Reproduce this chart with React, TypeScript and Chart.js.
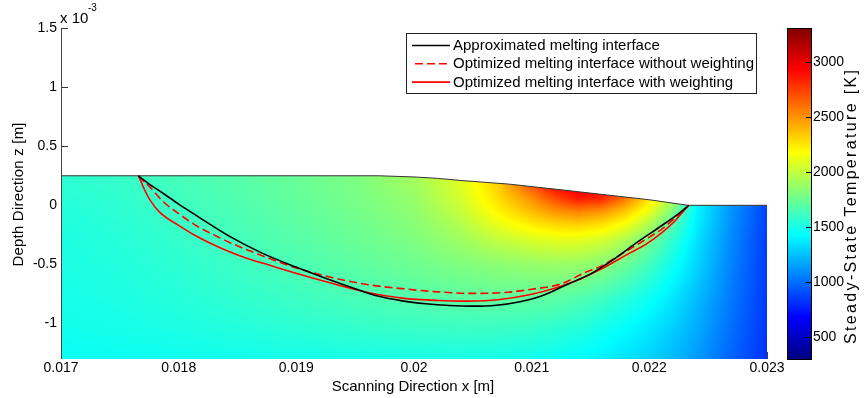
import React, { useEffect, useRef } from 'react';
import { Chart, registerables } from 'chart.js';

Chart.register(...registerables);

const FONT = '"Liberation Sans", Arial, Helvetica, sans-serif';

// axis ticks
const X_TICKS = [0.017, 0.018, 0.019, 0.02, 0.021, 0.022, 0.023];
const X_TICK_LABELS = ['0.017', '0.018', '0.019', '0.02', '0.021', '0.022', '0.023'];
const Y_TICKS = [-1, -0.5, 0, 0.5, 1, 1.5];
const Y_TICK_LABELS = ['-1', '-0.5', '0', '0.5', '1', '1.5'];
const CB_TICKS = [500, 1000, 1500, 2000, 2500, 3000];
const CB_TICK_LABELS = ['500', '1000', '1500', '2000', '2500', '3000'];
const CB_MIN = 300;
const CB_MAX = 3310;

// top surface of the work piece (x in m, z in 1e-3 m)
const SURFACE_X = [0.017, 0.0197, 0.02, 0.0202, 0.0204, 0.0208, 0.0212, 0.0216, 0.022, 0.02233, 0.023];
const SURFACE_Z = [0.25, 0.25, 0.24, 0.228, 0.21, 0.18, 0.137, 0.092, 0.047, 0.0, 0.0];

// melting interfaces (x in m, z in 1e-3 m)
const APPROX_X = [0.017657, 0.01775, 0.01787, 0.018, 0.018148, 0.018437, 0.0187, 0.01899, 0.01923, 0.0195, 0.0197, 0.0199, 0.0201, 0.0203, 0.0205, 0.0207, 0.0209, 0.0211, 0.0213, 0.0215, 0.0217, 0.0219, 0.0221, 0.02225, 0.022335];
const APPROX_Z = [0.25, 0.18, 0.1, 0.01, -0.085, -0.265, -0.4, -0.52, -0.61, -0.705, -0.77, -0.808, -0.832, -0.847, -0.853, -0.845, -0.815, -0.76, -0.67, -0.58, -0.455, -0.31, -0.175, -0.07, 0.0];

const NOWEIGHT_X = [0.017657, 0.0177, 0.01775, 0.01787, 0.018, 0.018154, 0.0183, 0.018437, 0.01872, 0.019, 0.0193, 0.0196, 0.0199, 0.0202, 0.0205, 0.0208, 0.021, 0.02125, 0.02145, 0.0216, 0.02175, 0.02195, 0.02212, 0.02226, 0.022335];
const NOWEIGHT_Z = [0.25, 0.205, 0.16, 0.03, -0.07, -0.175, -0.25, -0.316, -0.43, -0.53, -0.61, -0.67, -0.705, -0.732, -0.745, -0.735, -0.71, -0.665, -0.57, -0.51, -0.42, -0.3, -0.19, -0.07, 0.0];

const WEIGHT_X = [0.017657, 0.01768, 0.017708, 0.01776, 0.017842, 0.018, 0.018148, 0.0183, 0.01853, 0.0188, 0.01905, 0.0193, 0.0196, 0.0199, 0.0202, 0.02045, 0.02073, 0.02099, 0.02121, 0.02141, 0.02159, 0.02184, 0.02197, 0.02212, 0.02222, 0.02229, 0.022335];
const WEIGHT_Z = [0.25, 0.2, 0.136, 0.04, -0.062, -0.17, -0.26, -0.335, -0.43, -0.515, -0.59, -0.66, -0.735, -0.785, -0.805, -0.81, -0.797, -0.755, -0.698, -0.625, -0.54, -0.4, -0.33, -0.22, -0.13, -0.05, 0.0];

// steady-state temperature samples [K]
const TEMP_X = [0.017, 0.0175, 0.018, 0.0185, 0.019, 0.0195, 0.02, 0.0204, 0.0207, 0.021, 0.0212, 0.0214, 0.0216, 0.0218, 0.022, 0.0222, 0.0224, 0.0227, 0.023];
const TEMP_Z = [0.25, 0.15, 0.05, -0.05, -0.15, -0.3, -0.5, -0.8, -1.05, -1.3];
const TEMP_ROW_1 = [1560, 1590, 1635, 1685, 1735, 1800, 1910, 2080, 2320, 2700, 3000, 3150, 3080, 2800, 2450, 2100, 1550, 1150, 900];
const TEMP_ROW_2 = [1550, 1580, 1625, 1675, 1730, 1790, 1890, 2080, 2300, 2650, 2900, 3000, 2970, 2750, 2400, 2050, 1480, 1130, 890];
const TEMP_ROW_3 = [1540, 1570, 1615, 1665, 1720, 1780, 1870, 2050, 2260, 2500, 2700, 2850, 2800, 2560, 2250, 1950, 1430, 1120, 880];
const TEMP_ROW_4 = [1530, 1560, 1605, 1655, 1710, 1770, 1850, 2010, 2200, 2380, 2500, 2560, 2500, 2340, 2120, 1800, 1410, 1110, 870];
const TEMP_ROW_5 = [1520, 1550, 1595, 1645, 1700, 1755, 1830, 1960, 2120, 2250, 2320, 2340, 2290, 2170, 1960, 1680, 1390, 1100, 865];
const TEMP_ROW_6 = [1512, 1540, 1580, 1630, 1680, 1735, 1800, 1890, 1990, 2060, 2090, 2090, 2040, 1930, 1760, 1560, 1350, 1080, 855];
const TEMP_ROW_7 = [1505, 1528, 1562, 1605, 1650, 1700, 1755, 1805, 1840, 1870, 1885, 1875, 1830, 1740, 1620, 1470, 1310, 1060, 850];
const TEMP_ROW_8 = [1492, 1510, 1535, 1568, 1602, 1638, 1670, 1695, 1708, 1703, 1692, 1662, 1605, 1535, 1455, 1355, 1235, 1030, 840];
const TEMP_ROW_9 = [1478, 1490, 1508, 1530, 1552, 1575, 1590, 1598, 1596, 1580, 1560, 1530, 1478, 1425, 1365, 1285, 1185, 1000, 830];
const TEMP_ROW_10 = [1455, 1462, 1470, 1480, 1490, 1498, 1502, 1500, 1492, 1475, 1455, 1425, 1392, 1345, 1295, 1225, 1135, 970, 820];
const TEMP_GRID = [TEMP_ROW_1, TEMP_ROW_2, TEMP_ROW_3, TEMP_ROW_4, TEMP_ROW_5, TEMP_ROW_6, TEMP_ROW_7, TEMP_ROW_8, TEMP_ROW_9, TEMP_ROW_10];

const SERIES_LABELS = [
  'Approximated melting interface',
  'Optimized melting interface without weighting',
  'Optimized melting interface with weighting',
];

const clamp = (v: number, a: number, b: number) => Math.max(a, Math.min(b, v));

function jet(t: number): [number, number, number] {
  const f = (v: number) => Math.round(clamp(v, 0, 1) * 255);
  return [f(1.5 - Math.abs(4 * t - 3)), f(1.5 - Math.abs(4 * t - 2)), f(1.5 - Math.abs(4 * t - 1))];
}

function interp1(xs: number[], ys: number[], x: number) {
  if (x <= xs[0]) return ys[0];
  for (let i = 0; i < xs.length - 1; i++) {
    if (x <= xs[i + 1]) {
      const t = (x - xs[i]) / (xs[i + 1] - xs[i]);
      return ys[i] + t * (ys[i + 1] - ys[i]);
    }
  }
  return ys[ys.length - 1];
}

function tempAt(x: number, z: number) {
  let i = 0;
  while (i < TEMP_X.length - 2 && x > TEMP_X[i + 1]) i++;
  const tx = clamp((x - TEMP_X[i]) / (TEMP_X[i + 1] - TEMP_X[i]), 0, 1);
  let j = 0;
  while (j < TEMP_Z.length - 2 && z < TEMP_Z[j + 1]) j++;
  const tz = clamp((TEMP_Z[j] - z) / (TEMP_Z[j] - TEMP_Z[j + 1]), 0, 1);
  const a = TEMP_GRID[j][i], b = TEMP_GRID[j][i + 1];
  const c = TEMP_GRID[j + 1][i], d = TEMP_GRID[j + 1][i + 1];
  return a * (1 - tx) * (1 - tz) + b * tx * (1 - tz) + c * (1 - tx) * tz + d * tx * tz;
}

function spacedText(ctx: CanvasRenderingContext2D, text: string, cx: number, cy: number, target: number, angle: number) {
  ctx.save();
  ctx.translate(cx, cy);
  ctx.rotate(angle);
  (ctx as any).letterSpacing = '0px';
  const w = ctx.measureText(text).width;
  const sp = Math.max(0, (target - w) / (text.length - 1));
  (ctx as any).letterSpacing = sp.toFixed(2) + 'px';
  const w2 = ctx.measureText(text).width;
  ctx.textAlign = 'left';
  ctx.textBaseline = 'middle';
  ctx.fillText(text, -w2 / 2 + sp / 2, 0);
  ctx.restore();
}

const fieldPlugin = {
  id: 'fieldPlugin',
  beforeDatasetsDraw(chart: any) {
    const { ctx, chartArea: a, scales } = chart;
    const xs = scales.x, ys = scales.y, cb = scales.cb;
    ctx.save();
    // inward y ticks (covered by the field where it exists)
    ctx.strokeStyle = '#333';
    ctx.lineWidth = 1;
    Y_TICKS.forEach((v) => {
      const py = Math.round(ys.getPixelForValue(v)) + 0.5;
      ctx.beginPath();
      ctx.moveTo(a.left, py);
      ctx.lineTo(a.left + 7, py);
      ctx.stroke();
    });
    // temperature field
    const w = Math.round(a.right - a.left), h = Math.round(a.bottom - a.top);
    const off = document.createElement('canvas');
    off.width = w;
    off.height = h;
    const octx = off.getContext('2d')!;
    const img = octx.createImageData(w, h);
    for (let i = 0; i < w; i++) {
      const px = a.left + i + 0.5;
      const xv = xs.getValueForPixel(px);
      const sz = interp1(SURFACE_X, SURFACE_Z, xv);
      const spy = ys.getPixelForValue(sz);
      for (let j = 0; j < h; j++) {
        const py = a.top + j + 0.5;
        const cov = clamp(py + 0.5 - spy, 0, 1);
        if (cov <= 0) continue;
        const zv = ys.getValueForPixel(py);
        const T = tempAt(xv, zv);
        const [r, g, b] = jet((T - CB_MIN) / (CB_MAX - CB_MIN));
        const k = (j * w + i) * 4;
        img.data[k] = r;
        img.data[k + 1] = g;
        img.data[k + 2] = b;
        img.data[k + 3] = Math.round(cov * 255);
      }
    }
    octx.putImageData(img, 0, 0);
    ctx.drawImage(off, a.left, a.top);
    // colorbar
    const bl = a.right + 20, bw = 24;
    const bt = Math.round(cb.getPixelForValue(CB_MAX));
    const bb = Math.round(cb.getPixelForValue(CB_MIN));
    for (let y = bt; y < bb; y++) {
      const v = cb.getValueForPixel(y + 0.5);
      const [r, g, b] = jet((v - CB_MIN) / (CB_MAX - CB_MIN));
      ctx.fillStyle = `rgb(${r},${g},${b})`;
      ctx.fillRect(bl, y, bw, 1);
    }
    ctx.restore();
  },
  afterDatasetsDraw(chart: any) {
    const { ctx, chartArea: a, scales } = chart;
    const xs = scales.x, cb = scales.cb;
    ctx.save();
    // left axis line
    ctx.strokeStyle = '#444';
    ctx.lineWidth = 1;
    ctx.beginPath();
    ctx.moveTo(a.left + 0.5, a.top);
    ctx.lineTo(a.left + 0.5, a.bottom);
    ctx.stroke();
    // last x tick visible right of the field
    const lx = Math.round(xs.getPixelForValue(X_TICKS[X_TICKS.length - 1])) + 0.5;
    ctx.beginPath();
    ctx.moveTo(lx, a.bottom);
    ctx.lineTo(lx, a.bottom - 7);
    ctx.stroke();
    // colorbar frame and ticks
    const bl = a.right + 20, bw = 24;
    const bt = Math.round(cb.getPixelForValue(CB_MAX));
    const bb = Math.round(cb.getPixelForValue(CB_MIN));
    ctx.strokeStyle = '#000';
    ctx.strokeRect(bl + 0.5, bt + 0.5, bw, bb - bt);
    CB_TICKS.forEach((v) => {
      const py = Math.round(cb.getPixelForValue(v)) + 0.5;
      ctx.beginPath();
      ctx.moveTo(bl + bw, py);
      ctx.lineTo(bl + bw - 5, py);
      ctx.stroke();
    });
    // legend
    const lgL = 406, lgT = 33, lgW = 350, lgH = 60;
    ctx.fillStyle = '#fff';
    ctx.fillRect(lgL, lgT, lgW, lgH);
    ctx.strokeStyle = '#222';
    ctx.strokeRect(lgL + 0.5, lgT + 0.5, lgW, lgH);
    ctx.font = `15px ${FONT}`;
    ctx.textBaseline = 'middle';
    ctx.textAlign = 'left';
    const dss = chart.data.datasets;
    for (let i = 0; i < 3; i++) {
      const ds = dss[i];
      const y = lgT + 12.5 + i * 18.3;
      ctx.save();
      ctx.strokeStyle = ds.borderColor;
      ctx.lineWidth = ds.borderWidth;
      ctx.setLineDash(ds.borderDash || []);
      ctx.beginPath();
      ctx.moveTo(lgL + (ds.borderDash ? 9 : 6), y);
      ctx.lineTo(lgL + 44, y);
      ctx.stroke();
      ctx.restore();
      ctx.fillStyle = '#000';
      ctx.fillText(ds.label, lgL + 47, y + 0.5);
    }
    // multiplier
    ctx.fillStyle = '#000';
    ctx.textBaseline = 'alphabetic';
    ctx.font = `15px ${FONT}`;
    ctx.fillText('x 10', a.left - 1, 23);
    ctx.font = `10px ${FONT}`;
    ctx.fillText('-3', a.left + 27, 11);
    // axis titles
    ctx.font = `15px ${FONT}`;
    spacedText(ctx, 'Scanning Direction x [m]', (a.left + a.right) / 2 - 1, 387, 162, 0);
    spacedText(ctx, 'Depth Direction z [m]', 19, (a.top + a.bottom) / 2 + 1, 144, -Math.PI / 2);
    ctx.font = `16px ${FONT}`;
    spacedText(ctx, 'Steady-State Temperature [K]', 852, 207, 274, -Math.PI / 2);
    ctx.restore();
  },
};

export default function App() {
  const ref = useRef<HTMLCanvasElement>(null);
  useEffect(() => {
    document.body.style.margin = '0';
    const canvas = ref.current!;
    const mk = (xa: number[], za: number[]) => xa.map((x, i) => ({ x, y: za[i] }));
    const tickFont = { size: 14, family: FONT };
    const noPad = (s: any) => { s.paddingTop = 0; s.paddingBottom = 0; s.paddingLeft = 0; s.paddingRight = 0; };
    const grid = { display: false, drawTicks: false };
    const chart = new Chart(canvas, {
      type: 'scatter',
      data: {
        datasets: [
          { label: SERIES_LABELS[0], data: mk(APPROX_X, APPROX_Z), borderColor: '#000000', borderWidth: 1.6, showLine: true, pointRadius: 0, cubicInterpolationMode: 'monotone' } as any,
          { label: SERIES_LABELS[1], data: mk(NOWEIGHT_X, NOWEIGHT_Z), borderColor: '#ff0000', borderWidth: 1.6, borderDash: [8, 4], showLine: true, pointRadius: 0, cubicInterpolationMode: 'monotone' } as any,
          { label: SERIES_LABELS[2], data: mk(WEIGHT_X, WEIGHT_Z), borderColor: '#ff0000', borderWidth: 1.6, showLine: true, pointRadius: 0, cubicInterpolationMode: 'monotone' } as any,
          { label: 'surface', data: mk(SURFACE_X, SURFACE_Z), borderColor: '#333333', borderWidth: 1, showLine: true, pointRadius: 0 } as any,
        ],
      },
      options: {
        animation: false,
        responsive: false,
        devicePixelRatio: 1,
        events: [],
        layout: { padding: { top: 28, left: 0, right: 0, bottom: 0 } },
        plugins: { legend: { display: false }, tooltip: { enabled: false } },
        scales: {
          x: {
            type: 'linear', min: 0.017, max: 0.023,
            afterBuildTicks: (s: any) => { s.ticks = X_TICKS.map((v) => ({ value: v })); },
            afterFit: (s: any) => { s.height = 39; noPad(s); },
            ticks: { callback: (_v: any, i: number) => X_TICK_LABELS[i], color: '#000', font: tickFont, padding: 1, maxRotation: 0, autoSkip: false },
            grid, border: { display: false },
          },
          y: {
            type: 'linear', min: -1.3, max: 1.5,
            afterBuildTicks: (s: any) => { s.ticks = Y_TICKS.map((v) => ({ value: v })); },
            afterFit: (s: any) => { s.width = 61; noPad(s); },
            ticks: { callback: (_v: any, i: number) => Y_TICK_LABELS[i], color: '#000', font: tickFont, padding: 4, autoSkip: false },
            grid, border: { display: false },
          },
          cb: {
            type: 'linear', position: 'right', min: CB_MIN, max: CB_MAX,
            afterBuildTicks: (s: any) => { s.ticks = CB_TICKS.map((v) => ({ value: v })); },
            afterFit: (s: any) => { s.width = 98; noPad(s); },
            ticks: { callback: (_v: any, i: number) => CB_TICK_LABELS[i], color: '#000', font: tickFont, padding: 46, autoSkip: false },
            grid, border: { display: false },
          },
        },
      } as any,
      plugins: [fieldPlugin],
    });
    return () => chart.destroy();
  }, []);
  return (
    <div style={{ width: 865, height: 398, position: 'relative', background: '#fff' }}>
      <canvas ref={ref} width={865} height={398} style={{ width: 865, height: 398 }} />
    </div>
  );
}
